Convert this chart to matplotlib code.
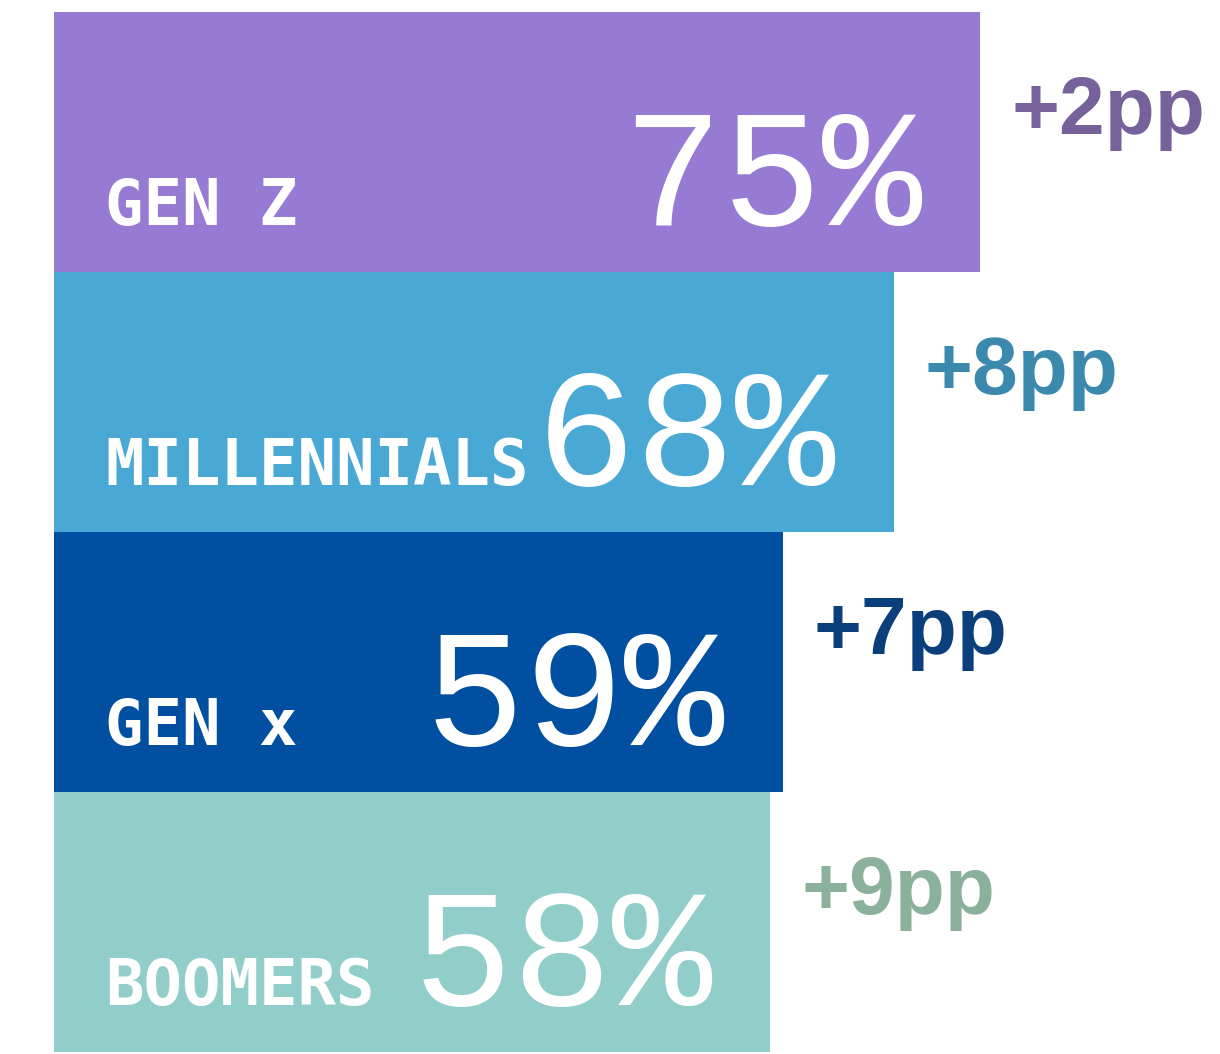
import matplotlib
matplotlib.use("Agg")
import matplotlib.pyplot as plt

categories = ["GEN Z", "MILLENNIALS", "GEN x", "BOOMERS"]
values = [75, 68, 59, 58]
changes = ["+2pp", "+8pp", "+7pp", "+9pp"]
bar_colors = ["#967AD4", "#4AA8D4", "#004FA0", "#91CEC9"]
change_colors = ["#76619A", "#3B8AAE", "#0B3F7C", "#8BB09B"]

W, H = 1220, 1054
fig = plt.figure(figsize=(W / 100, H / 100), dpi=100)
left_px, top_px, bottom_px = 54, 12, 1052
px_per_unit = 12.35
ax = fig.add_axes([left_px / W, (H - bottom_px) / H, (W - left_px) / W, (bottom_px - top_px) / H])
ax.set_xlim(0, (W - left_px) / px_per_unit)
ax.set_ylim(len(categories) - 0.5, -0.5)
ax.axis("off")

ypos = list(range(len(categories)))
ax.barh(ypos, values, height=1.0, color=bar_colors, edgecolor="none")

unit_y = (bottom_px - top_px) / len(categories)
for i, (cat, v, ch, cc) in enumerate(zip(categories, values, changes, change_colors)):
    base = i + 0.5 - 47 / unit_y
    ax.text(51 / px_per_unit, base, cat, family=["DejaVu Sans Mono"], weight="bold",
            fontsize=46, color="white", ha="left", va="baseline")
    ax.text(v - 58 / px_per_unit, base, f"{v}%", family=["Liberation Mono", "DejaVu Sans Mono"],
            fontsize=120, color="white", ha="right", va="baseline")
    ax.text(v + 31 / px_per_unit, i - 0.5 + 122 / unit_y, ch, family=["Liberation Sans", "DejaVu Sans"],
            weight="bold", fontsize=59, color=cc, ha="left", va="baseline")

fig.savefig("out.png", dpi=100)
